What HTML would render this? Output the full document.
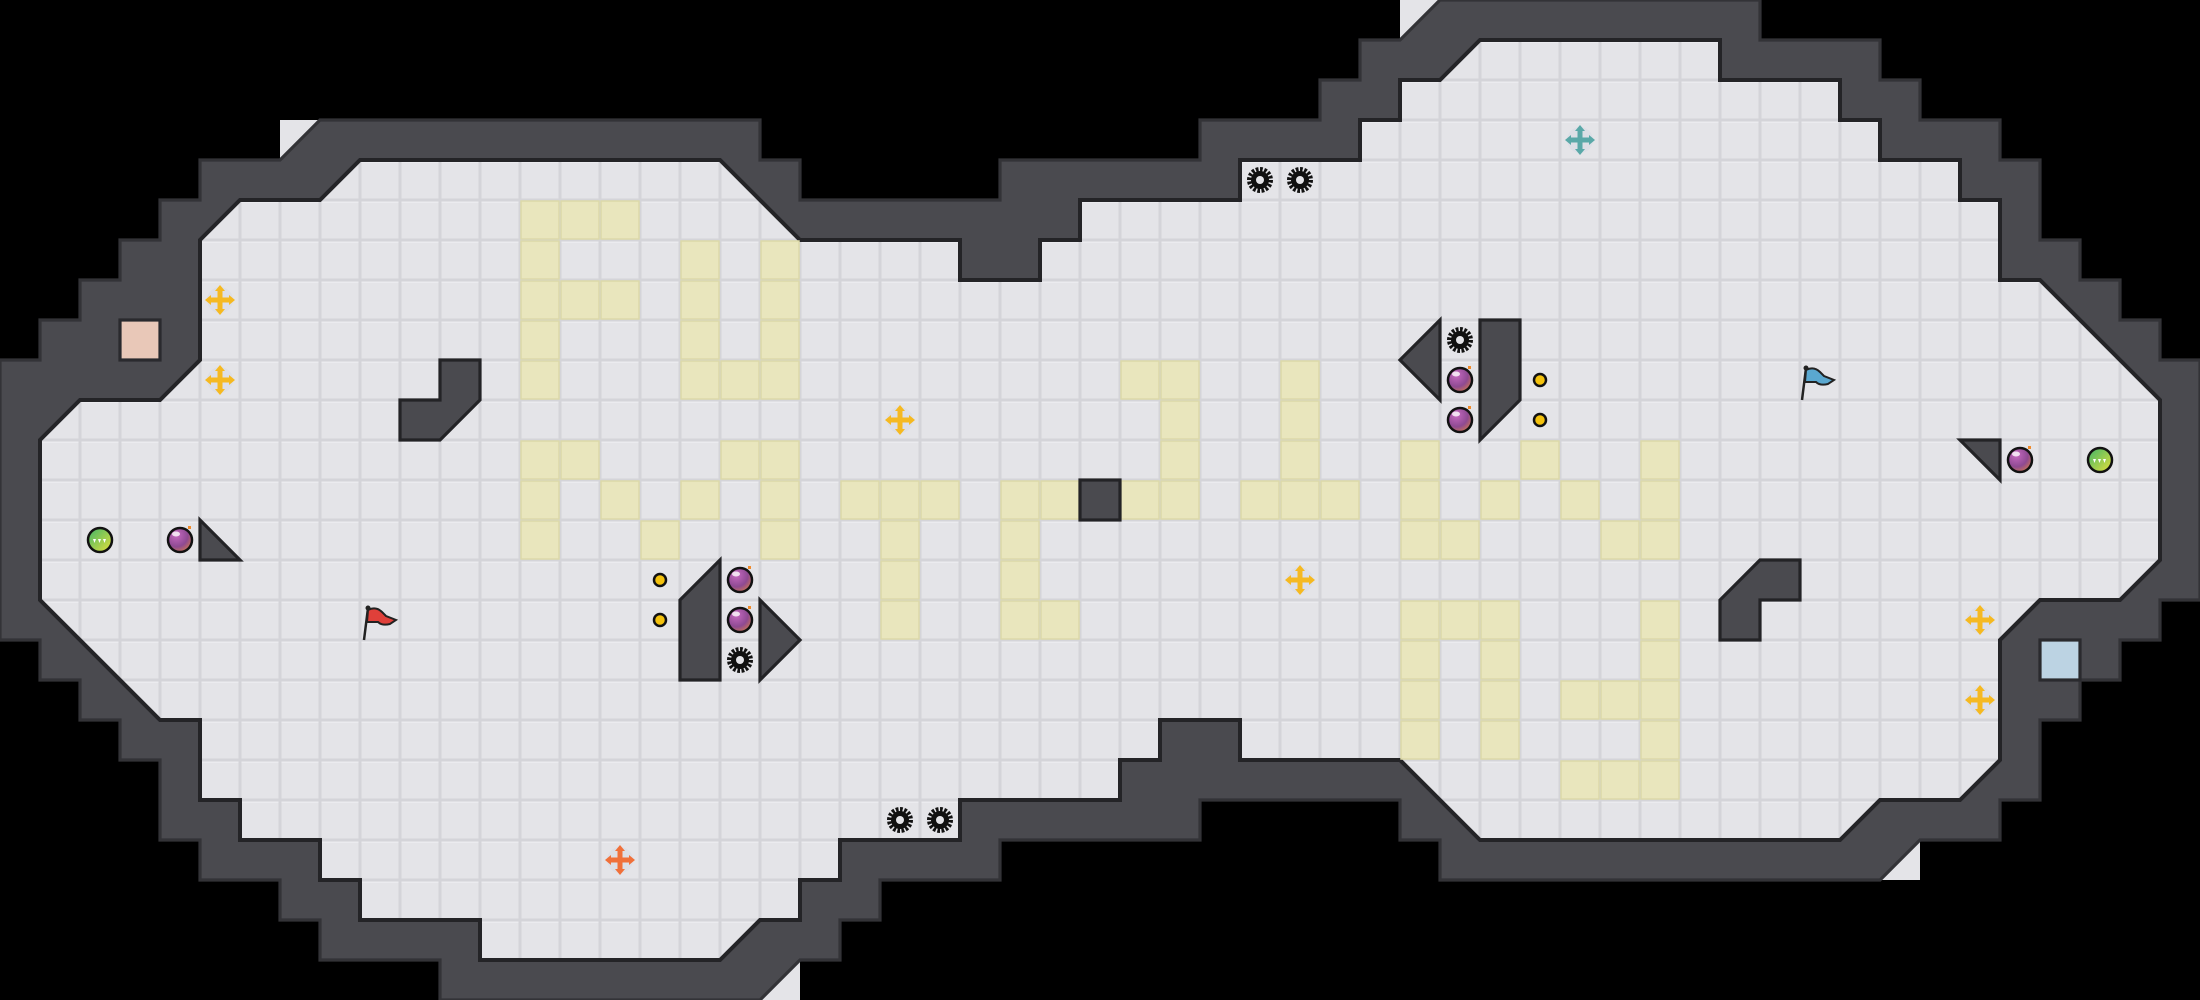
<!DOCTYPE html>
<html><head><meta charset="utf-8"><style>
html,body{margin:0;padding:0;background:#000;width:2200px;height:1000px;overflow:hidden}
svg{display:block}
</style></head><body>
<svg width="2200" height="1000" viewBox="0 0 2200 1000" xmlns="http://www.w3.org/2000/svg">
<defs>
<pattern id="gridU" x="0" y="0" width="1" height="1" patternUnits="userSpaceOnUse">
<rect width="1" height="1" fill="#d4d4d9"/>
<rect x="0.0375" y="0.0375" width="0.925" height="0.925" fill="#e4e4e8"/>
<rect x="0.0375" y="0.0375" width="0.925" height="0.035" fill="#ececf0"/>
</pattern>
<radialGradient id="bombGrad" cx="0.35" cy="0.3" r="0.8">
<stop offset="0" stop-color="#c66ac0"/><stop offset="0.6" stop-color="#8e4a92"/><stop offset="1" stop-color="#d37a4a"/>
</radialGradient>
<linearGradient id="greenGrad" x1="0" y1="0" x2="1" y2="1">
<stop offset="0" stop-color="#3fb56a"/><stop offset="1" stop-color="#e6e03a"/>
</linearGradient>
<g id="gear">
<circle r="10.5" fill="none" stroke="#111" stroke-width="5" stroke-dasharray="2.6 1.5"/>
<circle r="9" fill="#111"/>
<circle r="4" fill="#e4e4e8"/>
</g>
<g id="bomb">
<circle r="12" fill="url(#bombGrad)" stroke="#111" stroke-width="2.5"/>
<ellipse cx="-4" cy="-6" rx="4" ry="2.5" fill="#fff" opacity="0.8"/>
<rect x="8" y="-14" width="3" height="3" fill="#f08a2a"/>
</g>
<g id="cross" fill="#f5b921">
<circle r="13" fill="#dadde6" opacity="0.7"/>
<rect x="-12" y="-2.5" width="24" height="5"/>
<rect x="-2.5" y="-12" width="5" height="24"/>
<polygon points="-15,0 -9,-5 -9,5"/><polygon points="15,0 9,-5 9,5"/>
<polygon points="0,-15 -5,-9 5,-9"/><polygon points="0,15 -5,9 5,9"/>
</g>
<g id="dot"><circle r="6" fill="#f4c20d" stroke="#111" stroke-width="2.5"/></g>
<g id="ball">
<circle r="12" fill="url(#greenGrad)" stroke="#111" stroke-width="2.5"/>
<polygon points="-7,-1 -4,-1 -5.5,3" fill="#fff"/><polygon points="-2,-1 1,-1 -0.5,3" fill="#fff"/><polygon points="3,-1 6,-1 4.5,3" fill="#fff"/>
</g>
</defs>

<g transform="scale(40)" fill="#e4e4e8">
<polygon points="7,3 8,3 7,4"/>
<polygon points="19,25 20,24 20,25"/>
<polygon points="35,0 36,0 35,1"/>
<polygon points="47,22 48,21 48,22"/>
</g>

<g transform="scale(40)">
<polygon fill="#4a4a4f" stroke="#333337" stroke-width="0.08" stroke-linejoin="miter" points="8,3 19,3 19,4 20,4 20,5 25,5 25,4 30,4 30,3 33,3 33,2 34,2 34,1 35,1 36,0 44,0 44,1 47,1 47,2 48,2 48,3 50,3 50,4 51,4 51,6 52,6 52,7 53,7 53,8 54,8 54,9 55,9 55,15 54,15 54,16 53,16 53,17 52,17 52,18 51,18 51,20 50,20 50,21 48,21 47,22 36,22 36,21 35,21 35,20 30,20 30,21 25,21 25,22 22,22 22,23 21,23 21,24 20,24 19,25 11,25 11,24 8,24 8,23 7,23 7,22 5,22 5,21 4,21 4,19 3,19 3,18 2,18 2,17 1,17 1,16 0,16 0,9 1,9 1,8 2,8 2,7 3,7 3,6 4,6 4,5 5,5 5,4 7,4"/>
<rect x="3" y="8" width="1" height="1" fill="#e9c8b8" stroke="#2a2a2e" stroke-width="0.08"/>
<rect x="51" y="16" width="1" height="1" fill="#bcd3e3" stroke="#2a2a2e" stroke-width="0.08"/>
<polygon fill="url(#gridU)" stroke="#242427" stroke-width="0.1" stroke-linejoin="miter" points="9,4 18,4 20,6 24,6 24,7 26,7 26,6 27,6 27,5 31,5 31,4 34,4 34,3 35,3 35,2 36,2 37,1 43,1 43,2 46,2 46,3 47,3 47,4 49,4 49,5 50,5 50,7 51,7 54,10 54,14 53,15 51,15 50,16 50,19 49,20 47,20 46,21 37,21 35,19 31,19 31,18 29,18 29,19 28,19 28,20 24,20 24,21 21,21 21,22 20,22 20,23 19,23 18,24 12,24 12,23 9,23 9,22 8,22 8,21 6,21 6,20 5,20 5,18 4,18 1,15 1,11 2,10 4,10 5,9 5,6 6,5 8,5"/>
</g>

<g fill="#e9e6bd" stroke="#dcd9a8" stroke-width="1.5">
<rect x="521" y="201" width="38" height="38"/><rect x="561" y="201" width="38" height="38"/><rect x="601" y="201" width="38" height="38"/>
<rect x="521" y="241" width="38" height="38"/><rect x="681" y="241" width="38" height="38"/><rect x="761" y="241" width="38" height="38"/>
<rect x="521" y="281" width="38" height="38"/><rect x="561" y="281" width="38" height="38"/><rect x="601" y="281" width="38" height="38"/><rect x="681" y="281" width="38" height="38"/><rect x="761" y="281" width="38" height="38"/>
<rect x="521" y="321" width="38" height="38"/><rect x="681" y="321" width="38" height="38"/><rect x="761" y="321" width="38" height="38"/>
<rect x="521" y="361" width="38" height="38"/><rect x="681" y="361" width="38" height="38"/><rect x="721" y="361" width="38" height="38"/><rect x="761" y="361" width="38" height="38"/>
<rect x="521" y="441" width="38" height="38"/><rect x="561" y="441" width="38" height="38"/><rect x="721" y="441" width="38" height="38"/><rect x="761" y="441" width="38" height="38"/>
<rect x="521" y="481" width="38" height="38"/><rect x="601" y="481" width="38" height="38"/><rect x="681" y="481" width="38" height="38"/><rect x="761" y="481" width="38" height="38"/><rect x="841" y="481" width="38" height="38"/><rect x="881" y="481" width="38" height="38"/><rect x="921" y="481" width="38" height="38"/><rect x="1001" y="481" width="38" height="38"/><rect x="1041" y="481" width="38" height="38"/>
<rect x="521" y="521" width="38" height="38"/><rect x="641" y="521" width="38" height="38"/><rect x="761" y="521" width="38" height="38"/><rect x="881" y="521" width="38" height="38"/><rect x="1001" y="521" width="38" height="38"/>
<rect x="881" y="561" width="38" height="38"/><rect x="1001" y="561" width="38" height="38"/>
<rect x="881" y="601" width="38" height="38"/><rect x="1001" y="601" width="38" height="38"/><rect x="1041" y="601" width="38" height="38"/>
<rect x="1121" y="361" width="38" height="38"/><rect x="1161" y="361" width="38" height="38"/><rect x="1281" y="361" width="38" height="38"/>
<rect x="1161" y="401" width="38" height="38"/><rect x="1281" y="401" width="38" height="38"/>
<rect x="1161" y="441" width="38" height="38"/><rect x="1281" y="441" width="38" height="38"/><rect x="1401" y="441" width="38" height="38"/><rect x="1521" y="441" width="38" height="38"/><rect x="1641" y="441" width="38" height="38"/>
<rect x="1121" y="481" width="38" height="38"/><rect x="1161" y="481" width="38" height="38"/><rect x="1241" y="481" width="38" height="38"/><rect x="1281" y="481" width="38" height="38"/><rect x="1321" y="481" width="38" height="38"/><rect x="1401" y="481" width="38" height="38"/><rect x="1481" y="481" width="38" height="38"/><rect x="1561" y="481" width="38" height="38"/><rect x="1641" y="481" width="38" height="38"/>
<rect x="1401" y="521" width="38" height="38"/><rect x="1441" y="521" width="38" height="38"/><rect x="1601" y="521" width="38" height="38"/><rect x="1641" y="521" width="38" height="38"/>
<rect x="1401" y="601" width="38" height="38"/><rect x="1441" y="601" width="38" height="38"/><rect x="1481" y="601" width="38" height="38"/><rect x="1641" y="601" width="38" height="38"/>
<rect x="1401" y="641" width="38" height="38"/><rect x="1481" y="641" width="38" height="38"/><rect x="1641" y="641" width="38" height="38"/>
<rect x="1401" y="681" width="38" height="38"/><rect x="1481" y="681" width="38" height="38"/><rect x="1561" y="681" width="38" height="38"/><rect x="1601" y="681" width="38" height="38"/><rect x="1641" y="681" width="38" height="38"/>
<rect x="1401" y="721" width="38" height="38"/><rect x="1481" y="721" width="38" height="38"/><rect x="1641" y="721" width="38" height="38"/>
<rect x="1561" y="761" width="38" height="38"/><rect x="1601" y="761" width="38" height="38"/><rect x="1641" y="761" width="38" height="38"/>
</g>

<g transform="scale(40)" fill="#4a4a4f" stroke="#232326" stroke-width="0.08" stroke-linejoin="miter">
<polygon points="11,9 12,9 12,10 11,11 10,11 10,10 11,10"/>
<polygon points="5,13 6,14 5,14"/>
<polygon points="17,15 18,14 18,17 17,17"/>
<polygon points="19,15 20,16 19,17"/>
<rect x="27" y="12" width="1" height="1"/>
<polygon points="36,8 36,10 35,9"/>
<polygon points="37,8 38,8 38,10 37,11"/>
<polygon points="49,11 50,11 50,12"/>
<polygon points="44,14 45,14 45,15 44,15 44,16 43,16 43,15"/>
</g>

<use href="#gear" x="740" y="660"/>
<use href="#gear" x="900" y="820"/><use href="#gear" x="940" y="820"/>
<use href="#gear" x="1260" y="180"/><use href="#gear" x="1300" y="180"/>
<use href="#gear" x="1460" y="340"/>
<use href="#bomb" x="740" y="580"/><use href="#bomb" x="740" y="620"/>
<use href="#bomb" x="180" y="540"/>
<use href="#bomb" x="1460" y="380"/><use href="#bomb" x="1460" y="420"/>
<use href="#bomb" x="2020" y="460"/>
<use href="#dot" x="660" y="580"/><use href="#dot" x="660" y="620"/>
<use href="#dot" x="1540" y="380"/><use href="#dot" x="1540" y="420"/>
<use href="#ball" x="100" y="540"/><use href="#ball" x="2100" y="460"/>
<use href="#cross" x="220" y="300"/><use href="#cross" x="220" y="380"/>
<use href="#cross" x="900" y="420"/><use href="#cross" x="1300" y="580"/>
<use href="#cross" x="1980" y="620"/><use href="#cross" x="1980" y="700"/>
<g transform="translate(620,860)"><circle r="13" fill="#dadde6" opacity="0.7"/><g fill="#f0703a"><rect x="-12" y="-2.5" width="24" height="5"/><rect x="-2.5" y="-12" width="5" height="24"/><polygon points="-15,0 -9,-5 -9,5"/><polygon points="15,0 9,-5 9,5"/><polygon points="0,-15 -5,-9 5,-9"/><polygon points="0,15 -5,9 5,9"/></g></g>
<g transform="translate(1580,140)"><circle r="13" fill="#dadde6" opacity="0.7"/><g fill="#5aa8a8"><rect x="-12" y="-2.5" width="24" height="5"/><rect x="-2.5" y="-12" width="5" height="24"/><polygon points="-15,0 -9,-5 -9,5"/><polygon points="15,0 9,-5 9,5"/><polygon points="0,-15 -5,-9 5,-9"/><polygon points="0,15 -5,9 5,9"/></g></g>
<g transform="translate(362,604)">
<line x1="6" y1="4" x2="2" y2="36" stroke="#222" stroke-width="2.5"/>
<path d="M6,6 Q14,2 20,8 L24,12 L34,16 L28,20 Q20,22 16,18 L5,18 Z" fill="#e0403a" stroke="#222" stroke-width="2"/>
<circle cx="6" cy="4" r="2.5" fill="#222"/>
</g>
<g transform="translate(1800,364)">
<line x1="6" y1="4" x2="2" y2="36" stroke="#222" stroke-width="2.5"/>
<path d="M6,6 Q14,2 20,8 L24,12 L34,16 L28,20 Q20,22 16,18 L5,18 Z" fill="#5aa8d0" stroke="#222" stroke-width="2"/>
<circle cx="6" cy="4" r="2.5" fill="#222"/>
</g>
</svg>
</body></html>
